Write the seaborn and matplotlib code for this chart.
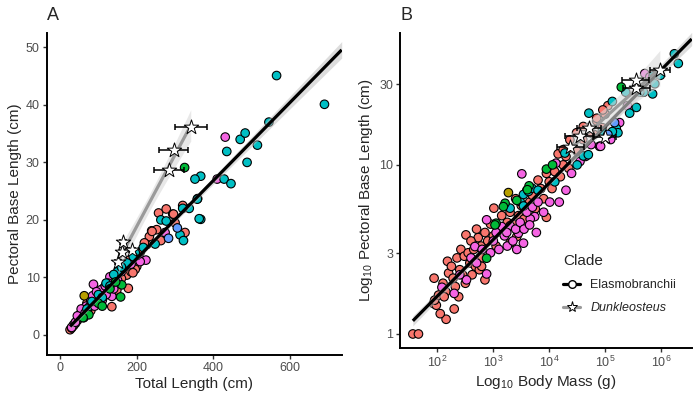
import numpy as np
import pandas as pd
import matplotlib
matplotlib.use("Agg")
import matplotlib.pyplot as plt
from matplotlib.lines import Line2D
import seaborn as sns

# ---------------- data ----------------
# Panel A: total length (cm) vs pectoral base length (cm), by fill group
a_cyan_x = [565, 690, 545, 470, 483, 515, 435, 488, 367, 352, 428, 446, 359, 337, 358, 263, 277, 367,
            313, 322, 248, 217, 196, 191, 320, 363, 83, 120, 150, 100, 140, 70, 175, 160, 110, 130]
a_cyan_y = [45.1, 40.1, 37.0, 34.0, 35.1, 33.0, 31.9, 30.0, 27.6, 27.1, 27.1, 26.3, 23.7, 22.0, 23.6, 20.0, 19.8, 20.1,
            17.4, 16.4, 15.8, 15.2, 14.3, 13.6, 22.0, 20.2, 5.8, 9.0, 11.0, 7.0, 10.5, 4.5, 12.5, 11.8, 6.5, 8.5]
a_salmon_x = [320, 257, 277, 294, 300, 239, 252, 326, 233, 263, 226, 200, 187, 178, 135, 104, 148, 130, 174, 196,
              26, 30, 40, 45, 55, 60, 65, 75, 80, 90, 95, 110, 115, 120, 125, 140, 145, 155, 160, 165, 170, 185,
              205, 210, 220, 35, 50, 70, 100, 85, 180, 190, 296, 240]
a_salmon_y = [22.5, 21.2, 21.9, 21.0, 19.5, 18.1, 18.3, 17.8, 17.1, 16.4, 15.7, 11.9, 12.5, 8.1, 4.9, 7.2, 7.8, 9.0, 10.4, 11.4,
              0.9, 1.2, 2.0, 2.5, 3.5, 3.2, 4.5, 5.0, 4.2, 6.5, 5.5, 7.8, 6.8, 8.5, 7.3, 9.5, 8.8, 10.5, 9.8, 11.5, 12.0, 11.0,
              13.5, 14.5, 16.0, 1.6, 3.0, 5.5, 6.2, 5.2, 13.0, 10.8, 21.0, 18.0]
a_pink_x = [431, 410, 274, 213, 224, 87, 130, 209, 96, 70, 48, 35, 135, 113, 30, 40, 52, 58, 62, 68, 75, 80, 90,
            100, 105, 110, 118, 125, 140, 145, 150, 160, 55, 45, 65, 85, 95, 120, 170, 185, 200]
a_pink_y = [34.4, 27.1, 17.8, 13.0, 13.0, 8.8, 10.1, 12.75, 5.6, 4.3, 2.9, 1.74, 6.7, 8.1, 1.3, 2.2, 3.6, 4.0, 3.0, 5.0, 4.8, 6.0, 5.0,
            7.0, 7.8, 6.0, 8.5, 9.0, 8.0, 10.0, 9.5, 11.0, 4.5, 3.3, 3.8, 6.8, 7.5, 7.0, 11.8, 12.3, 13.8]
a_green_x = [325, 158, 161, 75, 100, 130, 60, 145, 110]
a_green_y = [29.1, 6.6, 8.7, 3.5, 5.5, 8.0, 3.0, 9.2, 5.0]
a_olive_x = [63]
a_olive_y = [6.8]
a_blue_x = [306, 283]
a_blue_y = [18.6, 16.8]

# Dunkleosteus estimates (panel A)
a_dunk_x = [152, 161, 165, 187, 284, 296, 341]
a_dunk_y = [12.7, 14.5, 16.2, 14.8, 28.7, 32.1, 36.2]
a_dunk_xerr = [8, 8, 8, 8, 39, 37, 42]

# Panel B: log10 body mass (g) vs log10 pectoral base length (cm)
b_salmon_x = [1.56, 1.66, 2.155, 2.30, 1.94, 1.93, 1.98, 1.95, 2.02, 2.18, 2.51, 2.73, 3.01, 3.95, 2.10, 2.15, 2.20, 2.25,
              2.28, 2.35, 2.40, 2.42, 2.45, 2.48, 2.55, 2.58, 2.60, 2.65, 2.68, 2.70, 2.75, 2.78, 2.80, 2.85, 2.90, 2.95,
              3.00, 3.05, 3.10, 3.15, 3.20, 3.25, 3.30, 3.35, 3.40, 3.45, 3.50, 3.55, 3.60, 3.65, 3.70, 3.75, 3.80, 3.85,
              3.90, 3.95, 4.00, 4.05, 4.10, 4.16, 4.20, 4.25, 4.30, 4.35, 4.40, 4.50, 4.60, 4.70, 4.80, 4.85, 4.95, 5.00,
              5.05, 2.05, 2.12, 2.32, 2.38, 2.50, 2.62, 2.79, 2.85, 3.30, 3.42, 3.15, 4.49, 4.61, 4.37, 4.25, 4.73, 4.96, 4.85]
b_salmon_y = [0.00, 0.00, 0.087, 0.148, 0.33, 0.18, 0.17, 0.20, 0.23, 0.43, 0.586, 0.57, 0.744, 0.69, 0.30, 0.25, 0.36, 0.40,
              0.33, 0.45, 0.38, 0.50, 0.35, 0.46, 0.48, 0.42, 0.55, 0.50, 0.40, 0.62, 0.38, 0.52, 0.45, 0.60, 0.55, 0.65,
              0.58, 0.52, 0.62, 0.70, 0.60, 0.66, 0.72, 0.65, 0.80, 0.70, 0.76, 0.68, 0.85, 0.78, 0.82, 0.74, 0.91, 0.86,
              0.80, 0.95, 0.90, 0.86, 0.96, 1.065, 0.93, 1.00, 1.05, 0.98, 1.10, 1.08, 1.15, 1.22, 1.18, 1.26, 1.22, 1.30,
              1.35, 0.12, 0.22, 0.28, 0.22, 0.30, 0.35, 0.40, 0.32, 0.537, 0.576, 0.60, 1.19, 1.227, 1.148, 1.09, 1.19, 1.325, 1.276]
b_pink_x = [2.08, 2.52, 2.88, 3.51, 2.67, 2.88, 3.15, 3.45, 3.54, 4.01, 4.18, 3.74, 3.66, 4.12, 5.71, 5.26, 4.90, 2.60,
            2.70, 2.80, 2.95, 3.00, 3.05, 3.10, 3.20, 3.25, 3.30, 3.35, 3.40, 3.48, 3.55, 3.60, 3.70, 3.80, 3.90, 4.30,
            4.40, 4.55, 4.65, 4.75, 5.10, 5.40, 5.80, 2.40, 2.30, 3.65, 3.77, 3.42, 3.24, 4.92]
b_pink_y = [0.276, 0.32, 0.355, 0.947, 0.517, 0.675, 0.635, 0.596, 0.537, 0.78, 0.78, 0.694, 0.68, 1.01, 1.54, 1.25, 1.11, 0.45,
            0.42, 0.50, 0.48, 0.55, 0.60, 0.50, 0.58, 0.52, 0.64, 0.55, 0.62, 0.66, 0.62, 0.72, 0.75, 0.78, 0.72, 0.85,
            0.95, 1.02, 1.05, 1.12, 1.15, 1.35, 1.52, 0.35, 0.24, 0.645, 0.60, 0.50, 0.60, 1.11]
b_cyan_x = [6.24, 6.31, 5.13, 4.71, 5.44, 5.56, 5.20, 5.23, 3.48, 3.54, 3.63, 3.69, 3.54, 5.86, 5.89, 5.85, 5.69, 5.37,
            5.62, 5.99, 4.61, 4.28, 3.30, 3.80, 4.10, 4.50, 4.95, 5.13, 4.70]
b_cyan_y = [1.657, 1.60, 1.375, 1.306, 1.306, 1.34, 1.217, 1.19, 0.783, 0.825, 0.843, 0.862, 0.757, 1.527, 1.48, 1.42, 1.43, 1.43,
            1.43, 1.53, 1.053, 1.07, 0.744, 0.85, 0.90, 1.00, 1.20, 1.197, 1.06]
b_green_x = [2.88, 3.05, 3.03, 3.21, 3.42, 3.95, 4.06, 5.29, 3.64, 3.61, 3.18]
b_green_y = [0.448, 0.655, 0.645, 0.773, 0.79, 0.975, 1.00, 1.46, 0.876, 0.853, 0.753]
b_olive_x = [3.27]
b_olive_y = [0.836]
b_blue_x = [5.17, 5.05]
b_blue_y = [1.25, 1.18]

# Dunkleosteus estimates (panel B)
b_dunk_x = [4.38, 4.55, 4.71, 4.99, 5.56, 5.55, 5.98]
b_dunk_y = [1.108, 1.17, 1.217, 1.167, 1.454, 1.50, 1.56]
b_dunk_xerr = [0.24, 0.26, 0.22, 0.21, 0.24, 0.24, 0.18]

group_colors = {"g1": "#F8766D", "g2": "#B79F00", "g3": "#00BA38",
                "g4": "#00BFC4", "g5": "#619CFF", "g6": "#F564E3"}

b_xticks = [2, 3, 4, 5, 6]
b_yticks_cm = [1, 3, 10, 30]

# ---------------- build frames ----------------
def frame(groups):
    rows = []
    for g, xs, ys in groups:
        for x, y in zip(xs, ys):
            rows.append((g, x, y))
    return pd.DataFrame(rows, columns=["group", "x", "y"])

dfA = frame([("g1", a_salmon_x, a_salmon_y), ("g6", a_pink_x, a_pink_y), ("g4", a_cyan_x, a_cyan_y),
             ("g3", a_green_x, a_green_y), ("g2", a_olive_x, a_olive_y), ("g5", a_blue_x, a_blue_y)])
dfB = frame([("g1", b_salmon_x, b_salmon_y), ("g6", b_pink_x, b_pink_y), ("g4", b_cyan_x, b_cyan_y),
             ("g3", b_green_x, b_green_y), ("g2", b_olive_x, b_olive_y), ("g5", b_blue_x, b_blue_y)])


def ols(x, y, xs):
    x = np.asarray(x, float); y = np.asarray(y, float)
    b1, b0 = np.polyfit(x, y, 1)
    n = len(x)
    resid = y - (b0 + b1 * x)
    s = np.sqrt(np.sum(resid ** 2) / (n - 2))
    sxx = np.sum((x - x.mean()) ** 2)
    se = s * np.sqrt(1 / n + (xs - x.mean()) ** 2 / sxx)
    yh = b0 + b1 * xs
    t = 2.0 if n > 30 else 2.57
    return yh, yh - t * se, yh + t * se


# ---------------- style ----------------
sns.set_theme(style="ticks")
plt.rcParams["font.family"] = ["Liberation Sans", "DejaVu Sans"]
plt.rcParams["mathtext.fontset"] = "custom"
plt.rcParams["mathtext.rm"] = "Liberation Sans"
plt.rcParams["mathtext.it"] = "Liberation Sans:italic"

fig = plt.figure(figsize=(7, 4), dpi=100)
axA = fig.add_axes([46.7 / 700, 45 / 400, 295 / 700, 322 / 400])
axB = fig.add_axes([400 / 700, 52 / 400, 291.7 / 700, 315 / 400])

dunk_grey = "#9A9A9A"

def draw(ax, df, dx, dy, dxerr, xlim, ylim, star_s):
    ax.set_xlim(*xlim); ax.set_ylim(*ylim)
    sns.scatterplot(data=df, x="x", y="y", hue="group", palette=group_colors, s=38,
                    edgecolor="black", linewidth=0.8, legend=False, ax=ax, zorder=2)
    # Elasmobranch fit
    xs = np.linspace(df["x"].min(), xlim[1], 200)
    yh, lo, hi = ols(df["x"], df["y"], xs)
    ax.fill_between(xs, lo, hi, color="#BDBDBD", alpha=0.5, lw=0, zorder=3)
    ax.plot(xs, yh, color="black", lw=2.3, zorder=4, solid_capstyle="butt")
    # Dunkleosteus fit
    xs2 = np.linspace(min(dx), max(dx), 100)
    yh2, lo2, hi2 = ols(dx, dy, xs2)
    ax.fill_between(xs2, lo2, hi2, color="#D9D9D9", alpha=0.6, lw=0, zorder=5)
    ax.plot(xs2, yh2, color=dunk_grey, lw=2.3, zorder=6)
    ax.errorbar(dx, dy, xerr=dxerr, fmt="none", ecolor="black", elinewidth=1.1,
                capsize=2.5, capthick=1.1, zorder=7)
    ax.scatter(dx, dy, marker="*", s=star_s, facecolor="white", edgecolor="black",
               linewidth=0.7, zorder=8)
    for sp in ["top", "right"]:
        ax.spines[sp].set_visible(False)
    for sp in ["left", "bottom"]:
        ax.spines[sp].set_linewidth(1.4)
        ax.spines[sp].set_color("black")
    ax.tick_params(axis="both", length=3, width=1, color="#333333", labelsize=9,
                   labelcolor="#4D4D4D", pad=2)


draw(axA, dfA, a_dunk_x, a_dunk_y, a_dunk_xerr, (-35, 735), (-3.5, 52.5), 120)
axA.set_xticks([0, 200, 400, 600])
axA.set_yticks([0, 10, 20, 30, 40, 50])
axA.set_xlabel("Total Length (cm)", fontsize=11, labelpad=2)
axA.set_ylabel("Pectoral Base Length (cm)", fontsize=11, labelpad=3)

draw(axB, dfB, b_dunk_x, b_dunk_y, b_dunk_xerr, (1.33, 6.55), (-0.083, 1.78), 120)
axB.set_xticks(b_xticks)
axB.set_xticklabels([f"$10^{{{t}}}$" for t in b_xticks])
axB.set_yticks(np.log10(b_yticks_cm))
axB.set_yticklabels([str(v) for v in b_yticks_cm])
axB.set_xlabel("Log$_{10}$ Body Mass (g)", fontsize=11, labelpad=2)
axB.set_ylabel("Log$_{10}$ Pectoral Base Length (cm)", fontsize=11, labelpad=3)

fig.text(47 / 700, 1 - 15 / 400, "A", fontsize=13, ha="left", va="center")
fig.text(400 / 700, 1 - 15 / 400, "B", fontsize=13, ha="left", va="center")

handles = [
    Line2D([0], [0], color="black", lw=2.3, marker="o", markersize=5.5,
           markerfacecolor="white", markeredgecolor="black"),
    Line2D([0], [0], color=dunk_grey, lw=2.3, marker="*", markersize=8,
           markerfacecolor="white", markeredgecolor="black", markeredgewidth=0.7),
]
leg = axB.legend(handles, ["Elasmobranchii", "Dunkleosteus"], title="Clade",
                 loc="upper left", bbox_to_anchor=(0.52, 0.335), frameon=False,
                 fontsize=9, title_fontsize=11, handlelength=1.4, handletextpad=0.8,
                 labelspacing=0.9)
leg._legend_box.align = "left"
leg.get_texts()[1].set_style("italic")

fig.savefig("out.png", dpi=100)
